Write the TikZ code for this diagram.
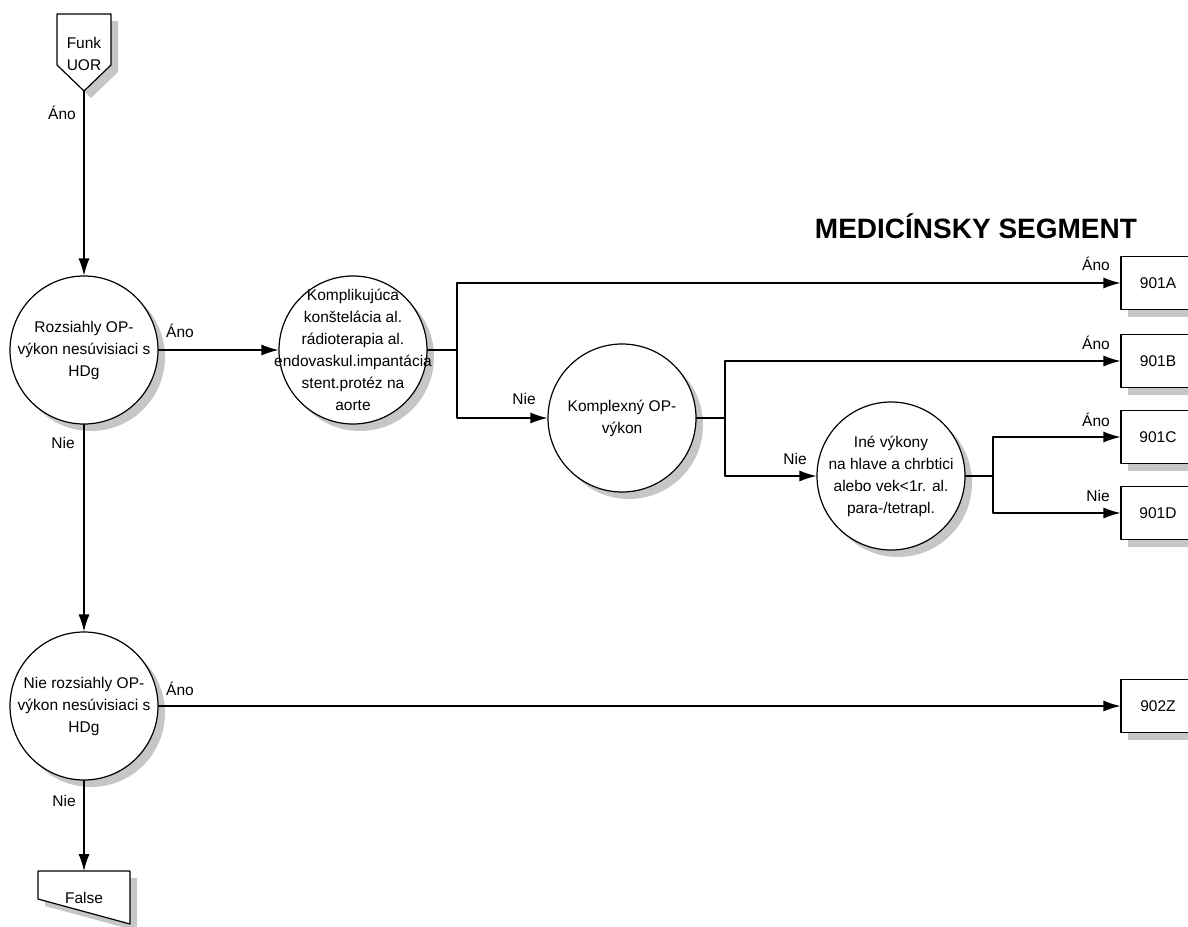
\documentclass[tikz,border=0pt]{standalone}
\usepackage{fontspec}
\setmainfont{Liberation Sans}
\usetikzlibrary{arrows.meta,shadows}

\tikzset{
  tien/.style={shadow xshift=7pt,shadow yshift=-7pt,fill=gray!45,opacity=1},
  uzol/.style={circle,draw,fill=white,minimum size=148pt,inner sep=0pt,drop shadow={tien}},
  text uzla/.style={inner sep=0pt,align=center,font=\fontsize{15.5}{22}\selectfont},
  vystup/.style={rectangle,draw,fill=white,minimum width=74pt,minimum height=53pt,inner sep=0pt,
    font=\fontsize{15.5}{18}\selectfont,drop shadow={tien}},
  popis/.style={inner sep=0pt,font=\fontsize{15.5}{18}\selectfont}
}

\begin{document}
\begin{tikzpicture}[line cap=round,line join=round,>={Latex[length=17pt,width=11pt]},x=1.0pt,y=-1.0pt,line width=1.2pt]
\useasboundingbox (0,0) rectangle (1188,926);
\clip (0,0) rectangle (1188,926);

% vstup
\fill[gray!45] (64,21) -- (118,21) -- (118,72) -- (91,98) -- (64,72) -- cycle;
\draw[fill=white] (57,14) -- (111,14) -- (111,65) -- (84,91) -- (57,65) -- cycle;
\node[text uzla] (funk) at (84,54) {Funk\\UOR};
\coordinate (uor) at (84,91);

% vystup False
\fill[gray!45] (45,878) -- (137,878) -- (137,931) -- (45,906) -- cycle;
\draw[fill=white] (38,871) -- (130,871) -- (130,924) -- (38,899) -- cycle;
\node[popis] (nepravda) at (84,898) {False};
\coordinate (false) at (84,871);

\node[font=\bfseries\fontsize{28}{32}\selectfont] (nadpis) at (976,226) {MEDICÍNSKY SEGMENT};

% rozhodovacie uzly
\node[uzol] (rozs) at (84,350) {};
\node[text uzla] (rozs-t) at (rozs) {Rozsiahly OP-\\výkon nesúvisiaci s\\HDg};
\node[uzol] (kompl) at (353,350) {};
\node[text uzla] (kompl-t) at (kompl) {Komplikujúca\\konštelácia al.\\rádioterapia al.\\endovaskul.impantácia\\stent.protéz na\\aorte};
\node[uzol] (op) at (622,418) {};
\node[text uzla] (op-t) at (op) {Komplexný OP-\\výkon};
\node[uzol] (ine) at (891,476) {};
\node[text uzla] (ine-t) at (ine) {Iné výkony\\na hlave a chrbtici\\alebo vek<1r. al.\\para-/tetrapl.};
\node[uzol] (nerozs) at (84,706) {};
\node[text uzla] (nerozs-t) at (nerozs) {Nie rozsiahly OP-\\výkon nesúvisiaci s\\HDg};

% segmenty
\node[vystup] (a) at (1158,283) {901A};
\node[vystup] (b) at (1158,361) {901B};
\node[vystup] (c) at (1158,437) {901C};
\node[vystup] (d) at (1158,513) {901D};
\node[vystup] (z) at (1158,706) {902Z};

\coordinate (j1) at (457,350);
\coordinate (j2) at (725,418);
\coordinate (j3) at (993,476);

\draw[->] (uor) -- (rozs);
\draw[->] (rozs) -- (kompl);
\draw[->] (rozs) -- (nerozs);
\draw[->] (nerozs) -- (z);
\draw[->] (nerozs) -- (false);
\draw (kompl) -- (j1);
\draw[->] (j1) |- (a);
\draw[->] (j1) |- (op);
\draw (op) -- (j2);
\draw[->] (j2) |- (b);
\draw[->] (j2) |- (ine);
\draw (ine) -- (j3);
\draw[->] (j3) |- (c);
\draw[->] (j3) |- (d);

% popisy
\node[popis] (l1) at (62,113) {Áno};
\node[popis] (l2) at (180,331) {Áno};
\node[popis] (l3) at (63,443) {Nie};
\node[popis] (l4) at (180,689) {Áno};
\node[popis] (l5) at (64,801) {Nie};
\node[popis] (l6) at (524,399) {Nie};
\node[popis] (l7) at (795,459) {Nie};
\node[popis] (l8) at (1096,264) {Áno};
\node[popis] (l9) at (1096,343) {Áno};
\node[popis] (l10) at (1096,420) {Áno};
\node[popis] (l11) at (1098,496) {Nie};
\end{tikzpicture}
\end{document}
